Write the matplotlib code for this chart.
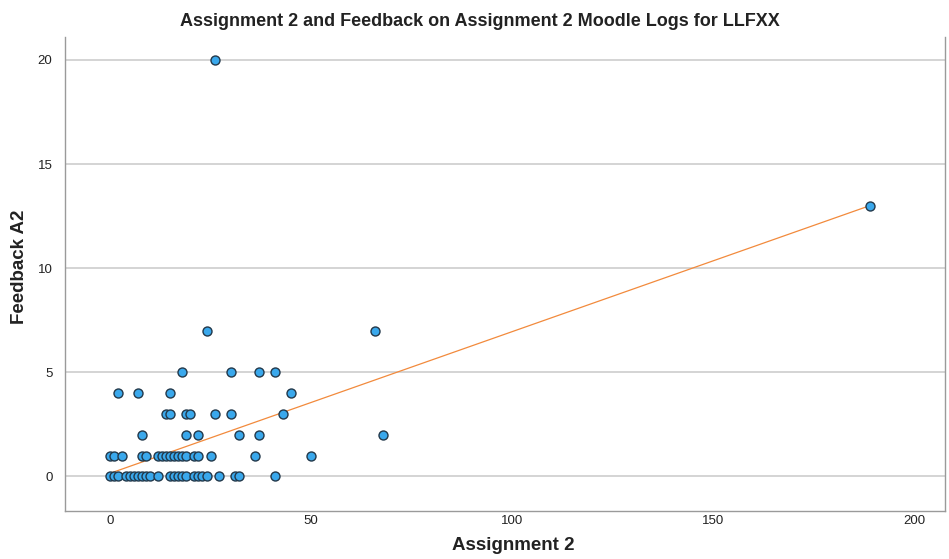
import numpy as np
import matplotlib
matplotlib.use("Agg")
import matplotlib.pyplot as plt

plt.rcParams['font.family'] = ['Liberation Sans', 'DejaVu Sans']

# Data (Assignment 2 views, Feedback A2 views)
x_y0 = [0, 1, 2, 4, 5, 6, 7, 8, 9, 10, 12, 15, 16, 17, 18, 19, 21, 22, 23, 24, 27, 31, 32, 41]
x_y1 = [0, 1, 3, 8, 9, 12, 13, 14, 15, 16, 17, 18, 19, 21, 22, 25, 36, 50]
x_y2 = [8, 19, 22, 32, 37, 68]
x_y3 = [14, 15, 19, 20, 26, 30, 43]
x_y4 = [2, 7, 15, 45]
x_y5 = [18, 30, 37, 41]
x_y7 = [24, 66]
x_y13 = [189]
x_y20 = [26]

# Fit line (linear fit, total)
fit_intercept = 0.15
fit_slope = 0.068

assignment2 = np.array(x_y0 + x_y1 + x_y2 + x_y3 + x_y4 + x_y5 + x_y7 + x_y13 + x_y20, dtype=float)
feedback = np.array([0]*len(x_y0) + [1]*len(x_y1) + [2]*len(x_y2) + [3]*len(x_y3) +
                    [4]*len(x_y4) + [5]*len(x_y5) + [7]*len(x_y7) + [13]*len(x_y13) +
                    [20]*len(x_y20), dtype=float)

title = "Assignment 2 and Feedback on Assignment 2 Moodle Logs for LLFXX"
xlabel = "Assignment 2"
ylabel = "Feedback A2"
xticks = [0, 50, 100, 150, 200]
yticks = [0, 5, 10, 15, 20]

W, H = 949, 559
fig = plt.figure(figsize=(W/100, H/100), dpi=100)
ax = fig.add_axes([65/W, 1 - 511/H, (945-65)/W, (511-37)/H])

ax.set_xlim(-11.2, 207.7)
ax.set_ylim(-1.66, 21.1)

for yt in yticks:
    ax.axhline(yt, color='#d4d4d4', lw=1.4, zorder=0)

xs = np.array([assignment2.min(), assignment2.max()])
ax.plot(xs, fit_intercept + fit_slope*xs, color='#f28a3c', lw=0.9, zorder=2)

ax.scatter(assignment2, feedback, s=42, c='#3aa8ec', edgecolors='#22384a',
           linewidths=1.0, zorder=3)

ax.set_xticks(xticks)
ax.set_yticks(yticks)
ax.tick_params(axis='both', length=0, labelsize=9.5, colors='#222222')
ax.tick_params(axis='x', pad=3)
ax.tick_params(axis='y', pad=9)
ax.spines['top'].set_visible(False)
for s in ['left', 'bottom', 'right']:
    ax.spines[s].set_color('#9a9a9a')
    ax.spines[s].set_linewidth(1.0)

fig.text(480/W, 1 - 22/H, title, ha='center', va='center', fontsize=13, fontweight='bold', color='#222222')
fig.text(513/W, 1 - 546/H, xlabel, ha='center', va='center', fontsize=13.5, fontweight='bold', color='#222222')
fig.text(20/W, 1 - 267/H, ylabel, ha='center', va='center', fontsize=13.5, fontweight='bold', rotation=90, color='#222222')

fig.savefig("out.png", dpi=100)
